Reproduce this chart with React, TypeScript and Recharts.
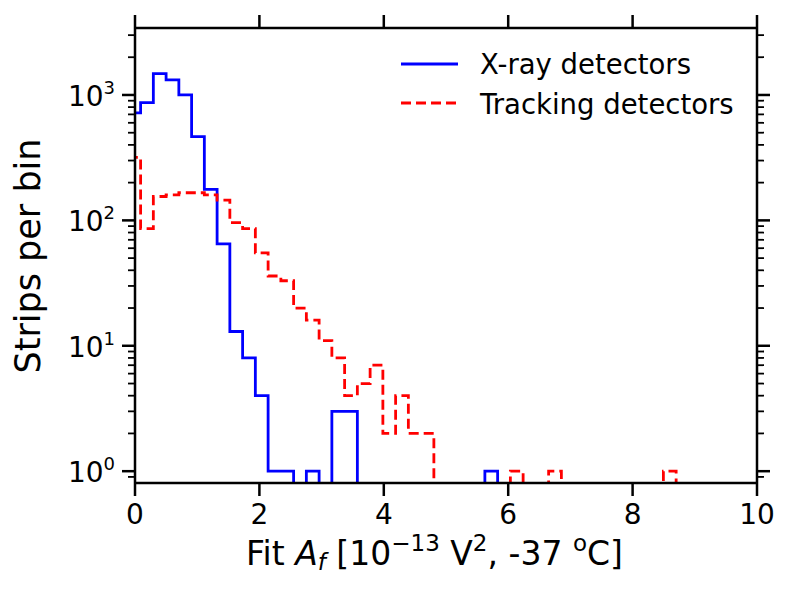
import { Legend, Line, LineChart, XAxis, YAxis } from 'recharts';

// histogram binning (bin edges start left of 0, clipped by the x range)
const BIN_START = -0.115;
const BIN_WIDTH = 0.205;

// strips per bin, one value per bin
const xrayCounts = [
  720, 870, 1480, 1320, 1000, 466, 177, 65, 13, 8, 4, 1, 1, 0, 1, 0, 3, 3,
  0, 0, 0, 0, 0, 0, 0, 0, 0, 0, 1, 0, 0, 0, 0, 0, 0, 0, 0, 0, 0, 0, 0, 0, 0,
];
const trackingCounts = [
  318, 86, 155, 160, 166, 166, 160, 145, 96, 86, 55, 36, 33, 20, 16, 11, 8, 4,
  5, 7, 2, 4, 2, 2, 0, 0, 0, 0, 0, 0, 1, 0, 0, 1, 0, 0, 0, 0, 0, 0, 0, 0, 1,
];

const xTicks = [0, 2, 4, 6, 8, 10];
const yMajorTicks = [1, 10, 100, 1000];
const yMinorTicks = [
  0.9, 2, 3, 4, 5, 6, 7, 8, 9, 20, 30, 40, 50, 60, 70, 80, 90,
  200, 300, 400, 500, 600, 700, 800, 900, 2000, 3000,
];
const yTicks = [...yMajorTicks, ...yMinorTicks];

const Y_DOMAIN = [0.805, 3420];
const LOG_FLOOR = 0.1; // empty bins sit below the visible range, like a clipped log plot

const FONT = '"DejaVu Sans", sans-serif';
const AXIS_W = 2.5;

const histData = Array.from({ length: xrayCounts.length + 1 }, (_, i) => {
  const xr = i < xrayCounts.length ? xrayCounts[i] : 0;
  const tr = i < trackingCounts.length ? trackingCounts[i] : 0;
  return {
    edge: BIN_START + i * BIN_WIDTH,
    xray: xr > 0 ? xr : LOG_FLOOR,
    tracking: tr > 0 ? tr : LOG_FLOOR,
  };
});

const isMajor = (v: number) => yMajorTicks.includes(v);

function LeftTick(props: any) {
  const { x, y, payload } = props;
  const v = payload.value;
  const major = isMajor(v);
  return (
    <g>
      <line x1={x - (major ? 13 : 7)} x2={x} y1={y} y2={y} stroke="#000" strokeWidth={major ? AXIS_W : 1.8} />
      {major && (
        <text x={x - 20} y={y + 11} textAnchor="end" fontSize={28} fontFamily={FONT} fill="#000">
          10<tspan fontSize={18} dy={-12}>{Math.round(Math.log10(v))}</tspan>
        </text>
      )}
    </g>
  );
}

function RightTick(props: any) {
  const { x, y, payload } = props;
  const major = isMajor(payload.value);
  return <line x1={x} x2={x + (major ? 13 : 7)} y1={y} y2={y} stroke="#000" strokeWidth={major ? AXIS_W : 1.8} />;
}

function BottomTick(props: any) {
  const { x, y, payload } = props;
  return (
    <g>
      <line x1={x} x2={x} y1={y} y2={y + 13} stroke="#000" strokeWidth={AXIS_W} />
      <text x={x} y={y + 40.5} textAnchor="middle" fontSize={28} fontFamily={FONT} fill="#000">
        {payload.value}
      </text>
    </g>
  );
}

function TopTick(props: any) {
  const { x, y } = props;
  return <line x1={x} x2={x} y1={y} y2={y - 13} stroke="#000" strokeWidth={AXIS_W} />;
}

function XLabel() {
  return (
    <text x={246} y={565} fontSize={33} fontFamily={FONT} fill="#000">
      {'Fit '}
      <tspan fontStyle="italic">A</tspan>
      <tspan fontStyle="italic" fontSize={23} dy={5}>f</tspan>
      <tspan dy={-5}>{' [10'}</tspan>
      <tspan fontSize={23} dy={-14}>−13</tspan>
      <tspan dy={14}>{' V'}</tspan>
      <tspan fontSize={23} dy={-14}>2</tspan>
      <tspan dy={14}>{', -37 '}</tspan>
      <tspan fontSize={23} dy={-14}>o</tspan>
      <tspan dy={14}>C]</tspan>
    </text>
  );
}

function YLabel() {
  return (
    <text
      x={40}
      y={256}
      transform="rotate(-90 40 256)"
      textAnchor="middle"
      fontSize={35}
      fontFamily={FONT}
      fill="#000"
    >
      Strips per bin
    </text>
  );
}

function LegendBox() {
  return (
    <svg width={360} height={90} style={{ display: 'block' }}>
      <line x1={6} x2={63} y1={19} y2={19} stroke="#0000ff" strokeWidth={2.8} />
      <text x={85} y={29} fontSize={27.5} fontFamily={FONT} fill="#000">X-ray detectors</text>
      <line x1={6} x2={63} y1={58} y2={58} stroke="#ff0000" strokeWidth={2.8} strokeDasharray="10 5" />
      <text x={85} y={69} fontSize={27.5} fontFamily={FONT} fill="#000">Tracking detectors</text>
    </svg>
  );
}

export default function App() {
  const axisLine = { stroke: '#000', strokeWidth: AXIS_W };
  return (
    <div style={{ position: 'absolute', left: 0, top: 0, background: '#fff' }}>
      <LineChart width={789} height={592} data={histData} margin={{ top: 0, right: 0, bottom: 0, left: 0 }}>
        <XAxis
          xAxisId="bottom"
          dataKey="edge"
          type="number"
          domain={[0, 10]}
          allowDataOverflow
          ticks={xTicks}
          interval={0}
          height={109}
          tickSize={0}
          tickMargin={0}
          tickLine={false}
          axisLine={axisLine}
          tick={<BottomTick />}
          label={<XLabel />}
        />
        <XAxis
          xAxisId="top"
          orientation="top"
          dataKey="edge"
          type="number"
          domain={[0, 10]}
          allowDataOverflow
          ticks={xTicks}
          interval={0}
          height={28}
          tickSize={0}
          tickMargin={0}
          tickLine={false}
          axisLine={axisLine}
          tick={<TopTick />}
        />
        <YAxis
          yAxisId="left"
          scale="log"
          type="number"
          domain={Y_DOMAIN}
          allowDataOverflow
          ticks={yTicks}
          interval={0}
          width={135}
          tickSize={0}
          tickMargin={0}
          tickLine={false}
          axisLine={axisLine}
          tick={<LeftTick />}
          label={<YLabel />}
        />
        <YAxis
          yAxisId="right"
          orientation="right"
          scale="log"
          type="number"
          domain={Y_DOMAIN}
          allowDataOverflow
          ticks={yTicks}
          interval={0}
          width={32}
          tickSize={0}
          tickMargin={0}
          tickLine={false}
          axisLine={axisLine}
          tick={<RightTick />}
        />
        <Line
          xAxisId="bottom"
          yAxisId="left"
          type="stepAfter"
          dataKey="xray"
          stroke="#0000ff"
          strokeWidth={2.8}
          dot={false}
          isAnimationActive={false}
          legendType="none"
        />
        <Line
          xAxisId="bottom"
          yAxisId="left"
          type="stepAfter"
          dataKey="tracking"
          stroke="#ff0000"
          strokeWidth={2.8}
          strokeDasharray="10 5"
          dot={false}
          isAnimationActive={false}
          legendType="none"
        />
        <Legend
          layout="vertical"
          align="center"
          verticalAlign="middle"
          wrapperStyle={{ left: 395, top: 45, width: 360, height: 90 }}
          content={() => <LegendBox />}
        />
      </LineChart>
    </div>
  );
}
